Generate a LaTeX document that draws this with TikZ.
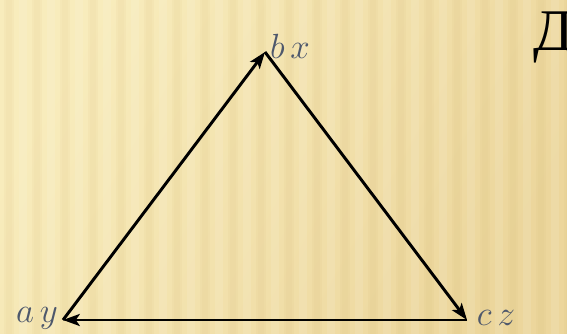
\documentclass[tikz,border=0pt]{standalone}
\usepackage{fontspec}
\newfontfamily\cyrfont{Liberation Serif}
\usepackage{tikz}
\usetikzlibrary{arrows.meta}

\definecolor{bglight}{RGB}{248,236,188}
\definecolor{bgdark}{RGB}{236,214,156}
\definecolor{stripe}{RGB}{200,165,90}
\definecolor{lbl}{RGB}{78,88,108}

\tikzset{
  edge/.style={line width=2.1pt,-{Stealth[length=4.2mm,width=3mm,inset=1mm]}},
  vlabel/.style={text=lbl,font=\fontsize{25}{28}\selectfont}
}

\begin{document}
\begin{tikzpicture}[x=0.025cm,y=-0.025cm]

% Frame and background
\useasboundingbox (0,0) rectangle (567,334);
\clip (0,0) rectangle (567,334);
\shade[left color=bglight,right color=bgdark,shading angle=60]
  (0,0) rectangle (567,334);

% Vertical stripes
\foreach \x in {4,32,...,570}
{
\fill[stripe,opacity=0.06] (\x,0) rectangle (\x+10,334);
\fill[stripe,opacity=0.04] (\x+2,0) rectangle (\x+8,334);
\fill[white,opacity=0.10] (\x+15,0) rectangle (\x+23,334);
}

% Letter at top right
\node[anchor=north west,inner sep=0pt,font=\cyrfont\fontsize{42}{44}\selectfont]
  (letter) at (533,12) {Д};

% Vertices
\coordinate (a) at (63,320);
\coordinate (b) at (265,52);
\coordinate (c) at (467,320);

% Labels
\node[vlabel] (ay) at (37,318) {$a\,y$};
\node[vlabel] (bx) at (290,46) {$b\,x$};
\node[vlabel] (cz) at (496,318) {$c\,z$};

% Sides of the triangle
\draw[edge] (a) -- (b);
\draw[edge] (b) -- (c);
\draw[edge] (c) -- (a);

\end{tikzpicture}
\end{document}
